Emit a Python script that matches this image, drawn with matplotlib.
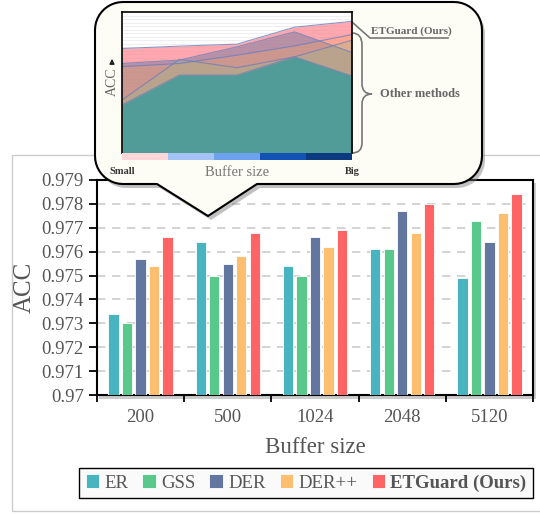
import numpy as np
import matplotlib.pyplot as plt
from matplotlib.patches import Polygon, Rectangle, PathPatch
from matplotlib.path import Path

plt.rcParams['font.family'] = ['Liberation Serif', 'DejaVu Serif']

buffer_sizes = ['200', '500', '1024', '2048', '5120']
methods = ['ER', 'GSS', 'DER', 'DER++', 'ETGuard (Ours)']
colors = ['#47b4bf', '#58c98b', '#62769f', '#fdbe6f', '#fe6466']

acc_er = [0.9734, 0.9764, 0.9754, 0.9761, 0.9749]
acc_gss = [0.9730, 0.9750, 0.9750, 0.9761, 0.9773]
acc_der = [0.9757, 0.9755, 0.9766, 0.9777, 0.9764]
acc_derpp = [0.9754, 0.9758, 0.9762, 0.9768, 0.9776]
acc_etg = [0.9766, 0.9768, 0.9769, 0.9780, 0.9784]

# schematic curves in the bubble (relative height, 0..1)
sk_etg = [0.741, 0.758, 0.772, 0.892, 0.934]
sk_der = [0.635, 0.659, 0.753, 0.859, 0.713]
sk_derpp = [0.612, 0.635, 0.694, 0.760, 0.840]
sk_gss = [0.376, 0.664, 0.605, 0.682, 0.800]
sk_er = [0.341, 0.553, 0.553, 0.682, 0.546]
strip_colors = ['#ffd7d9', '#a4c3f4', '#6fa2ee', '#1352b5', '#0b3a7e']

gray = '#555555'
W, H = 540, 514

fig = plt.figure(figsize=(W / 100, H / 100), dpi=100)

# background: gray frame + shadow of main axes
bg = fig.add_axes([0, 0, 1, 1], zorder=0)
bg.set_xlim(0, W)
bg.set_ylim(H, 0)
bg.axis('off')
bg.add_patch(Rectangle((12, 155), 540, 356, fill=False, edgecolor='#cccccc', lw=1))
bg.add_patch(Rectangle((99, 183), 437, 216, facecolor='#999999', alpha=0.5, lw=0))

# main bar chart
ax = fig.add_axes([97 / W, (H - 395) / H, 436 / W, 215 / H], zorder=1)
ax.set_facecolor('white')
series = [acc_er, acc_gss, acc_der, acc_derpp, acc_etg]
x = np.arange(len(buffer_sizes))
pitch, bw = 0.155, 0.118
for i, (vals, name, c) in enumerate(zip(series, methods, colors)):
    ax.bar(x + (i - 2) * pitch, np.array(vals) - 0.97, bw, bottom=0.97, color=c,
           edgecolor='white', linewidth=0.6, label=name, zorder=3)

ax.set_xlim(-0.5, 4.5)
ax.set_ylim(0.97, 0.979)
ax.set_yticks(np.arange(0.970, 0.9795, 0.001))
ax.set_yticklabels(['0.97'] + ['%.3f' % v for v in np.arange(0.971, 0.9795, 0.001)])
ax.set_xticks(np.arange(-0.5, 5, 1))
ax.set_xticklabels([])
ax.set_xticks(x, minor=True)
ax.set_xticklabels(buffer_sizes, minor=True)
ax.tick_params(axis='x', which='minor', length=0, pad=10, labelsize=13.5, labelcolor=gray)
ax.tick_params(axis='x', which='major', length=5, width=1.3, direction='out')
ax.tick_params(axis='y', length=6, width=1.3, direction='out', labelsize=13.5, labelcolor=gray)
ax.grid(axis='y', linestyle=(0, (5, 4)), color='#cccccc', linewidth=1.2, zorder=0)
for s in ax.spines.values():
    s.set_linewidth(1.5)
ax.set_ylabel('ACC', fontsize=18, color=gray, labelpad=4)
ax.set_xlabel('Buffer size', fontsize=16.5, color=gray, labelpad=8)

leg = fig.legend(loc='center', bbox_to_anchor=(306 / W, 1 - 483 / H), ncol=5,
                 fontsize=13.5, frameon=True, fancybox=False, edgecolor='black',
                 facecolor='#fafafa', framealpha=1, handlelength=0.7, handleheight=0.7,
                 handletextpad=0.3, columnspacing=0.75, borderpad=0.35)
leg.get_frame().set_linewidth(1.0)
for t in leg.get_texts():
    t.set_color(gray)
leg.get_texts()[-1].set_fontweight('bold')

# speech bubble overlay
ov = fig.add_axes([0, 0, 1, 1], zorder=5)
ov.set_xlim(0, W)
ov.set_ylim(H, 0)
ov.axis('off')
ov.patch.set_alpha(0)

x0, x1, y0, y1, r = 95, 482, 2, 184, 28


def arc(cx, cy, a0, a1):
    t = np.radians(np.linspace(a0, a1, 12))
    return list(zip(cx + r * np.cos(t), cy + r * np.sin(t)))


pts = [(x0 + r, y0), (x1 - r, y0)]
pts += arc(x1 - r, y0 + r, -90, 0)
pts += arc(x1 - r, y1 - r, 0, 90)
pts += [(257, y1), (208, 216), (157, y1)]
pts += arc(x0 + r, y1 - r, 90, 180)
pts += arc(x0 + r, y0 + r, 180, 270)
pts = np.array(pts)
ov.add_patch(Polygon(pts + [3, 4], closed=True, facecolor='#777777', alpha=0.45, lw=0))
ov.add_patch(Polygon(pts, closed=True, facecolor='#fdfdf6', edgecolor='black', lw=1.5))

ov.text(122, 172, 'Small', fontsize=7.5, fontweight='bold', color='#333333', ha='center', va='center')
ov.text(237, 172, 'Buffer size', fontsize=10.5, color='#777777', ha='center', va='center')
ov.text(352, 172, 'Big', fontsize=7.5, fontweight='bold', color='#333333', ha='center', va='center')
ov.text(112, 82, 'ACC', fontsize=10, color='#666666', rotation=90, ha='center', va='center')
ov.annotate('', xy=(112, 56), xytext=(112, 66),
            arrowprops=dict(arrowstyle='-|>', color='#222222', lw=1, mutation_scale=7))

ov.plot([352, 370, 448], [22, 38, 38], color='#777777', lw=1.2)
ov.text(411, 31, 'ETGuard (Ours)', fontsize=8, color='#666666', ha='center', va='center', fontweight='bold')

brace = Path([(352, 33), (362, 33), (362, 45), (362, 84), (362, 94), (372, 94),
              (362, 94), (362, 104), (362, 143), (362, 153), (352, 153)],
             [Path.MOVETO, Path.CURVE3, Path.CURVE3, Path.LINETO, Path.CURVE3, Path.CURVE3,
              Path.CURVE3, Path.CURVE3, Path.LINETO, Path.CURVE3, Path.CURVE3])
ov.add_patch(PathPatch(brace, fill=False, edgecolor='#777777', lw=1.2))
ov.text(380, 94, 'Other methods', fontsize=9, color='#666666', ha='left', va='center', fontweight='bold')

# inset schematic
ins = fig.add_axes([122 / W, (H - 153) / H, 230 / W, 141 / H], zorder=6)
xs = np.arange(5)
sk = [(sk_etg, '#ff8b95', 0.75), (sk_der, '#62769f', 0.45), (sk_derpp, '#fda55a', 0.3),
      (sk_gss, '#8fbf8a', 0.3), (sk_er, '#3f9a9a', 0.85)]
for vals, c, a in sk:
    ins.fill_between(xs, 0, vals, color=c, alpha=a, lw=0)
    ins.plot(xs, vals, color='#6f80b8', lw=0.8, alpha=0.8)
ins.set_xlim(0, 4)
ins.set_ylim(0, 1)
ins.set_yticks(np.arange(0, 1, 0.025))
ins.grid(axis='y', color='#e8e8f0', lw=0.5)
ins.set_axisbelow(True)
ins.tick_params(length=0, labelleft=False, labelbottom=False)
for s in ins.spines.values():
    s.set_linewidth(1.2)
ins.spines['bottom'].set_visible(False)

strip = fig.add_axes([122 / W, (H - 160) / H, 230 / W, 7 / H], zorder=6)
strip.bar(np.arange(5), np.ones(5), 1.0, color=strip_colors, lw=0)
strip.set_xlim(-0.5, 4.5)
strip.set_ylim(0, 1)
strip.axis('off')

fig.savefig('out.png', dpi=100)
